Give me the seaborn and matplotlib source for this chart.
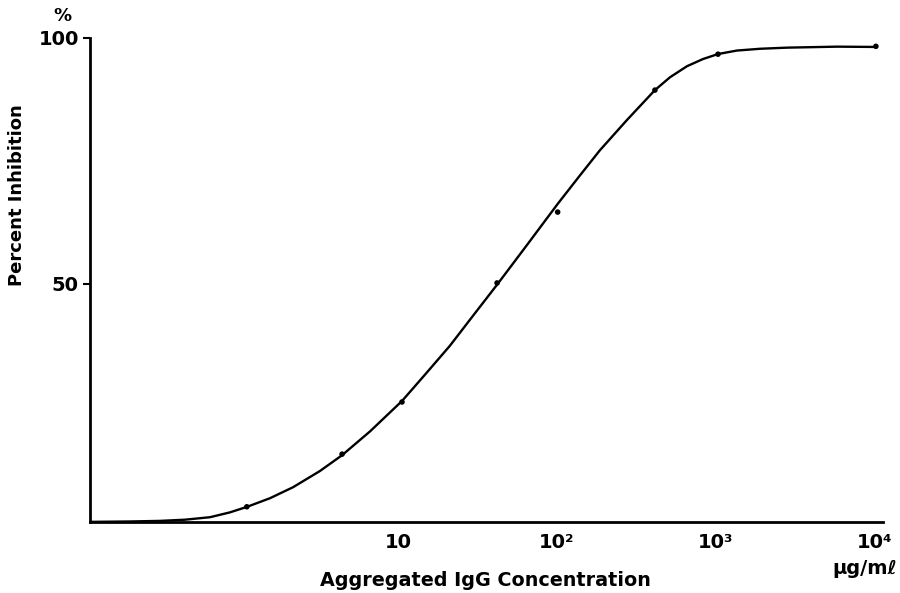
import matplotlib
matplotlib.use("Agg")
import matplotlib.pyplot as plt
import seaborn as sns
import pandas as pd

# measured data points
conc = [1.12, 4.45, 10.6, 42.0, 101, 413, 1030, 10140]
inhibition = [4.7, 15.4, 26.0, 50.2, 64.6, 89.4, 96.7, 98.3]

# hand-read points along the drawn fitted curve
curve_conc = [0.1156, 0.1545, 0.206, 0.318, 0.457, 0.658, 0.877, 1.12, 1.567,
              2.19, 3.23, 4.45, 6.67, 10.6, 14.8, 21.2, 29.6, 42.0, 64.7, 101,
              139.6, 186, 275, 413, 514, 657, 828, 1030, 1355, 1892, 2800,
              5770, 10140]
curve_inh = [1.63, 1.67, 1.71, 1.83, 2.07, 2.58, 3.56, 4.67, 6.44,
             8.68, 11.97, 15.18, 20.02, 26.2, 31.57, 37.42, 43.5, 49.84, 57.89, 66.26,
             72.07, 77.15, 83.29, 89.39, 92.01, 94.25, 95.71, 96.73, 97.44, 97.80, 98.03,
             98.23, 98.17]

xticks = [10, 100, 1000, 10000]
xtick_labels = ["10", "10²", "10³", "10⁴"]
yticks = [50, 100]
ytick_labels = ["50", "100"]

sns.set_style("white")
fam = ["Liberation Sans Narrow", "DejaVu Sans Condensed", "DejaVu Sans"]
plt.rcParams["text.color"] = "black"

fig = plt.figure(figsize=(9, 5.93), dpi=100)
ax = fig.add_axes([0.1, 0.1197, 0.881, 0.8163])

pts = pd.DataFrame({"conc": conc, "inh": inhibition})
crv = pd.DataFrame({"conc": curve_conc, "inh": curve_inh})
sns.lineplot(data=crv, x="conc", y="inh", ax=ax, color="black", lw=1.7,
             sort=False, estimator=None)
sns.scatterplot(data=pts, x="conc", y="inh", ax=ax, color="black", s=16,
                edgecolor="none", zorder=5)

ax.set_xscale("log")
ax.set_xlim(0.1156, 11220)
ax.set_ylim(1.6, 100)
for s in ["top", "right"]:
    ax.spines[s].set_visible(False)
for s in ["left", "bottom"]:
    ax.spines[s].set_linewidth(2)
    ax.spines[s].set_color("black")

ax.set_xticks(xticks)
ax.set_xticklabels(xtick_labels, family=fam, fontweight="bold", fontsize=14,
                   color="black")
ax.minorticks_off()
ax.tick_params(axis="x", length=0, pad=8)
ax.set_yticks(yticks)
ax.set_yticklabels(ytick_labels, family=fam, fontweight="bold", fontsize=14,
                   color="black")
ax.tick_params(axis="y", length=5, width=1.5, direction="out", pad=3, left=True,
               color="black")
ax.set_xlabel("")
ax.set_ylabel("")

fig.text(62 / 900, 1 - 16 / 593, "%", family=fam, fontweight="bold",
         fontsize=13, ha="center", va="center")
fig.text(485 / 900, 1 - 580 / 593, "Aggregated IgG Concentration",
         fontsize=13.8, fontweight="bold", ha="center", va="center")
fig.text(17 / 900, 1 - 195 / 593, "Percent Inhibition", fontsize=13,
         fontweight="bold", rotation=90, ha="center", va="center")
fig.text(897 / 900, 1 - 569 / 593, "μg/mℓ", fontsize=14, fontweight="bold",
         ha="right", va="center")

fig.savefig("out.png", dpi=100, facecolor="white")
